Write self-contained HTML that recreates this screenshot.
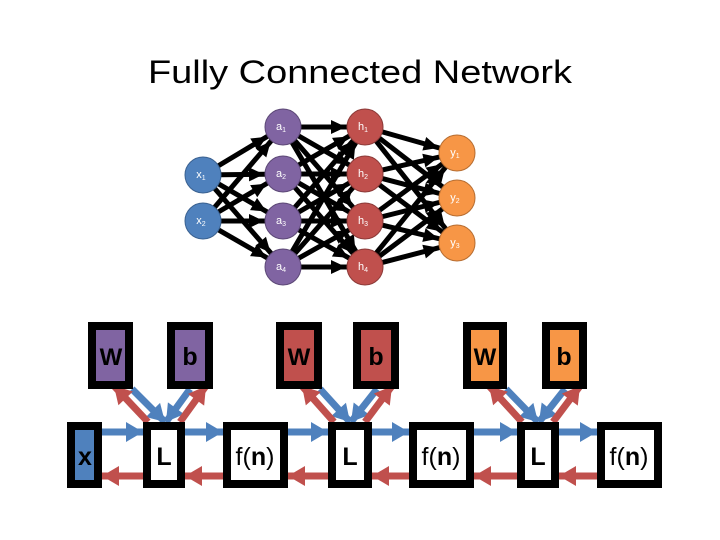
<!DOCTYPE html>
<html><head><meta charset="utf-8"><style>
html,body{margin:0;padding:0;background:#fff;}
svg{display:block;font-family:"Liberation Sans",sans-serif;}
</style></head><body>
<svg id="s" width="720" height="540" viewBox="0 0 720 540">
<defs>
<marker id="ah" viewBox="0 0 15 14" markerUnits="userSpaceOnUse" markerWidth="15" markerHeight="14" refX="34" refY="7" orient="auto" overflow="visible"><path d="M0,0 L15,7 L0,14 z" fill="#000"/></marker>
<marker id="bh" viewBox="0 0 17 20" markerUnits="userSpaceOnUse" markerWidth="17" markerHeight="20" refX="17" refY="10" orient="auto" overflow="visible"><path d="M0,0 L17,10 L0,20 z" fill="#4F81BD"/></marker>
<marker id="rh" viewBox="0 0 17 20" markerUnits="userSpaceOnUse" markerWidth="17" markerHeight="20" refX="17" refY="10" orient="auto" overflow="visible"><path d="M0,0 L17,10 L0,20 z" fill="#C0504D"/></marker>
</defs>
<text x="360" y="83" font-size="32" text-anchor="middle" textLength="424" lengthAdjust="spacingAndGlyphs">Fully Connected Network</text>
<g id="lines" stroke="#000" stroke-width="5"></g>
<g font-size="11" fill="#fff" text-anchor="middle">
<circle cx="203" cy="175" r="18" fill="#4F81BD" stroke="#3a6190"/><text x="201" y="178">x<tspan font-size="7" dy="2">1</tspan></text>
<circle cx="203" cy="221" r="18" fill="#4F81BD" stroke="#3a6190"/><text x="201" y="224">x<tspan font-size="7" dy="2">2</tspan></text>
<circle cx="283" cy="127" r="18" fill="#8064A2" stroke="#5c4876"/><text x="281" y="130">a<tspan font-size="7" dy="2">1</tspan></text>
<circle cx="283" cy="174" r="18" fill="#8064A2" stroke="#5c4876"/><text x="281" y="177">a<tspan font-size="7" dy="2">2</tspan></text>
<circle cx="283" cy="221" r="18" fill="#8064A2" stroke="#5c4876"/><text x="281" y="224">a<tspan font-size="7" dy="2">3</tspan></text>
<circle cx="283" cy="267" r="18" fill="#8064A2" stroke="#5c4876"/><text x="281" y="270">a<tspan font-size="7" dy="2">4</tspan></text>
<circle cx="365" cy="127" r="18" fill="#C0504D" stroke="#8c3a38"/><text x="363" y="130">h<tspan font-size="7" dy="2">1</tspan></text>
<circle cx="365" cy="174" r="18" fill="#C0504D" stroke="#8c3a38"/><text x="363" y="177">h<tspan font-size="7" dy="2">2</tspan></text>
<circle cx="365" cy="221" r="18" fill="#C0504D" stroke="#8c3a38"/><text x="363" y="224">h<tspan font-size="7" dy="2">3</tspan></text>
<circle cx="365" cy="267" r="18" fill="#C0504D" stroke="#8c3a38"/><text x="363" y="270">h<tspan font-size="7" dy="2">4</tspan></text>
<circle cx="457" cy="153" r="18" fill="#F79646" stroke="#b66d31"/><text x="455" y="156">y<tspan font-size="7" dy="2">1</tspan></text>
<circle cx="457" cy="198" r="18" fill="#F79646" stroke="#b66d31"/><text x="455" y="201">y<tspan font-size="7" dy="2">2</tspan></text>
<circle cx="457" cy="243" r="18" fill="#F79646" stroke="#b66d31"/><text x="455" y="246">y<tspan font-size="7" dy="2">3</tspan></text>
</g>
<g stroke-width="7" fill="none">
<line x1="102" y1="432" x2="143" y2="432" stroke="#4F81BD" marker-end="url(#bh)"/>
<line x1="185" y1="432" x2="223" y2="432" stroke="#4F81BD" marker-end="url(#bh)"/>
<line x1="288" y1="432" x2="328" y2="432" stroke="#4F81BD" marker-end="url(#bh)"/>
<line x1="372" y1="432" x2="409" y2="432" stroke="#4F81BD" marker-end="url(#bh)"/>
<line x1="474" y1="432" x2="517" y2="432" stroke="#4F81BD" marker-end="url(#bh)"/>
<line x1="559" y1="432" x2="597" y2="432" stroke="#4F81BD" marker-end="url(#bh)"/>
<line x1="143" y1="476" x2="102" y2="476" stroke="#C0504D" marker-end="url(#rh)"/>
<line x1="223" y1="476" x2="185" y2="476" stroke="#C0504D" marker-end="url(#rh)"/>
<line x1="328" y1="476" x2="288" y2="476" stroke="#C0504D" marker-end="url(#rh)"/>
<line x1="409" y1="476" x2="372" y2="476" stroke="#C0504D" marker-end="url(#rh)"/>
<line x1="517" y1="476" x2="474" y2="476" stroke="#C0504D" marker-end="url(#rh)"/>
<line x1="597" y1="476" x2="559" y2="476" stroke="#C0504D" marker-end="url(#rh)"/>
<line x1="132" y1="389" x2="165" y2="422" stroke="#4F81BD" marker-end="url(#bh)"/>
<line x1="148" y1="422" x2="114" y2="386" stroke="#C0504D" marker-end="url(#rh)"/>
<line x1="190" y1="389" x2="166" y2="422" stroke="#4F81BD" marker-end="url(#bh)"/>
<line x1="180" y1="422" x2="206" y2="386" stroke="#C0504D" marker-end="url(#rh)"/>
<line x1="320" y1="389" x2="350" y2="422" stroke="#4F81BD" marker-end="url(#bh)"/>
<line x1="334" y1="422" x2="302" y2="386" stroke="#C0504D" marker-end="url(#rh)"/>
<line x1="377" y1="389" x2="351" y2="422" stroke="#4F81BD" marker-end="url(#bh)"/>
<line x1="365" y1="422" x2="392" y2="386" stroke="#C0504D" marker-end="url(#rh)"/>
<line x1="506" y1="389" x2="538" y2="422" stroke="#4F81BD" marker-end="url(#bh)"/>
<line x1="522" y1="422" x2="489" y2="386" stroke="#C0504D" marker-end="url(#rh)"/>
<line x1="565" y1="389" x2="539" y2="422" stroke="#4F81BD" marker-end="url(#bh)"/>
<line x1="553" y1="422" x2="580" y2="386" stroke="#C0504D" marker-end="url(#rh)"/>
</g>
<g stroke="#000" stroke-width="8">
<rect x="92" y="326" width="37" height="59" fill="#8064A2"/>
<rect x="171" y="326" width="38" height="59" fill="#8064A2"/>
<rect x="280" y="326" width="38" height="59" fill="#C0504D"/>
<rect x="357" y="326" width="38" height="59" fill="#C0504D"/>
<rect x="467" y="326" width="36" height="59" fill="#F79646"/>
<rect x="546" y="326" width="37" height="59" fill="#F79646"/>
<rect x="71" y="426" width="27" height="58" fill="#4F81BD"/>
<rect x="147" y="426" width="34" height="58" fill="#fff"/>
<rect x="227" y="426" width="57" height="58" fill="#fff"/>
<rect x="332" y="426" width="36" height="58" fill="#fff"/>
<rect x="413" y="426" width="57" height="58" fill="#fff"/>
<rect x="521" y="426" width="34" height="58" fill="#fff"/>
<rect x="601" y="426" width="57" height="58" fill="#fff"/>
</g>
<g font-size="25" text-anchor="middle" fill="#000">
<text x="111" y="365" font-weight="bold" font-size="24">W</text>
<text x="190" y="365" font-weight="bold">b</text>
<text x="299" y="365" font-weight="bold" font-size="24">W</text>
<text x="376" y="365" font-weight="bold">b</text>
<text x="485" y="365" font-weight="bold" font-size="24">W</text>
<text x="564" y="365" font-weight="bold">b</text>
<text x="85" y="465" font-weight="bold">x</text>
<text x="164" y="465" font-weight="bold">L</text>
<text x="255" y="465">f(<tspan font-weight="bold">n</tspan>)</text>
<text x="350" y="465" font-weight="bold">L</text>
<text x="441" y="465">f(<tspan font-weight="bold">n</tspan>)</text>
<text x="538" y="465" font-weight="bold">L</text>
<text x="629" y="465">f(<tspan font-weight="bold">n</tspan>)</text>
</g>
</svg>
<script>
(function(){
var X=[[203,175],[203,221]],A=[[283,127],[283,174],[283,221],[283,267]],
H=[[365,127],[365,174],[365,221],[365,267]],Y=[[457,153],[457,198],[457,243]];
var g=document.getElementById('lines'),ns='http://www.w3.org/2000/svg';
function c(S,T){S.forEach(function(s){T.forEach(function(t){
var l=document.createElementNS(ns,'line');
var dx=t[0]-s[0],dy=t[1]-s[1],d=Math.sqrt(dx*dx+dy*dy);
l.setAttribute('x1',s[0]+dx/d*18);l.setAttribute('y1',s[1]+dy/d*18);
l.setAttribute('x2',t[0]);l.setAttribute('y2',t[1]);
l.setAttribute('marker-end','url(#ah)');g.appendChild(l);});});}
c(X,A);c(A,H);c(H,Y);
})();
</script>
</body></html>
